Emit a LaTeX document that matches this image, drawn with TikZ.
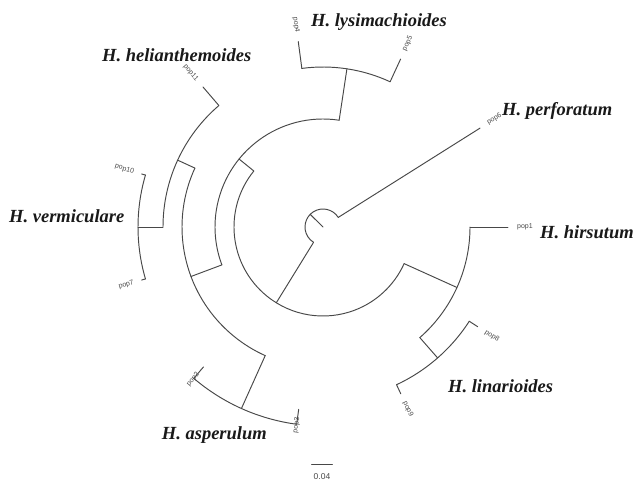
\documentclass[tikz,border=0pt]{standalone}
\usepackage{fontspec}
\setmainfont{Liberation Serif}
\newfontfamily\tipfont{Liberation Sans}
\definecolor{branchgray}{HTML}{484848}
\definecolor{tipgray}{HTML}{4A4A4A}
% tip labels: right half reads outward, left half is flipped and right-aligned
\newcommand\tipR[3]{\node[tiplabel, anchor=west, rotate=#1] (lab-#3) at (#1:#2pt) {#3};}
\newcommand\tipL[3]{\node[tiplabel, anchor=east, rotate=#1+180] (lab-#3) at (#1:#2pt) {#3};}
\begin{document}
\begin{tikzpicture}[x=1pt,y=1pt,
  branch/.style={draw=branchgray, line width=0.95pt, line cap=round, line join=round},
  tiplabel/.style={font=\tipfont\fontsize{7}{8}\selectfont, text=tipgray, inner sep=0pt},
  species/.style={font=\bfseries\itshape\fontsize{18.5}{20}\selectfont, text=black!90, inner sep=0pt}]
\useasboundingbox (0,0) rectangle (637,-482);
\fill[white] (0,0) rectangle (637,-482);

\begin{scope}[shift={(323,-227)}]
  % root
  \coordinate (root) at (0,0);
  \coordinate (rootTick) at (135.3:18pt);
  \coordinate (rootA) at (32.2:18pt);
  \coordinate (rootB) at (238.35:18pt);
  \draw[branch] (root) -- (rootTick);
  \draw[branch] (rootA) arc[start angle=32.2, end angle=238.35, radius=18pt];
  % H. perforatum
  \coordinate (pop6) at (32.2:185.6pt);
  \draw[branch] (rootA) -- (pop6);
  % main clade
  \coordinate (n1) at (238.35:89pt);
  \coordinate (n1a) at (141:89pt);
  \coordinate (n1b) at (335.7:89pt);
  \draw[branch] (rootB) -- (n1);
  \draw[branch] (n1a) arc[start angle=141, end angle=335.7, radius=89pt];
  % northern/western clade
  \coordinate (n2) at (141:108pt);
  \coordinate (n2a) at (81.4:108pt);
  \coordinate (n2b) at (200.55:108pt);
  \draw[branch] (n1a) -- (n2);
  \draw[branch] (n2a) arc[start angle=81.4, end angle=200.55, radius=108pt];
  % H. lysimachioides
  \coordinate (n3) at (81.4:160pt);
  \coordinate (n3a) at (65.2:160pt);
  \coordinate (n3b) at (97.6:160pt);
  \coordinate (pop5) at (65.2:185pt);
  \coordinate (pop4) at (97.6:187pt);
  \draw[branch] (n2a) -- (n3);
  \draw[branch] (n3a) arc[start angle=65.2, end angle=97.6, radius=160pt];
  \draw[branch] (n3a) -- (pop5);
  \draw[branch] (n3b) -- (pop4);
  % helianthemoides / vermiculare / asperulum
  \coordinate (n4) at (200.55:141pt);
  \coordinate (n4a) at (155.3:141pt);
  \coordinate (n4b) at (245.8:141pt);
  \draw[branch] (n2b) -- (n4);
  \draw[branch] (n4a) arc[start angle=155.3, end angle=245.8, radius=141pt];
  \coordinate (n7) at (155.3:160pt);
  \coordinate (n7a) at (130.6:160pt);
  \coordinate (n7b) at (180:160pt);
  \coordinate (pop11) at (130.6:184.5pt);
  \draw[branch] (n4a) -- (n7);
  \draw[branch] (n7a) arc[start angle=130.6, end angle=180, radius=160pt];
  \draw[branch] (n7a) -- (pop11);
  % H. vermiculare
  \coordinate (n8) at (180:185pt);
  \coordinate (n8a) at (163.7:185pt);
  \coordinate (n8b) at (196.3:185pt);
  \coordinate (pop10) at (163.7:189pt);
  \coordinate (pop7) at (196.3:189pt);
  \draw[branch] (n7b) -- (n8);
  \draw[branch] (n8a) arc[start angle=163.7, end angle=196.3, radius=185pt];
  \draw[branch] (n8a) -- (pop10);
  \draw[branch] (n8b) -- (pop7);
  % H. asperulum
  \coordinate (n9) at (245.8:199pt);
  \coordinate (n9a) at (229.5:199pt);
  \coordinate (n9b) at (262.4:199pt);
  \coordinate (pop2) at (229.5:184pt);
  \coordinate (pop3) at (262.4:184pt);
  \draw[branch] (n4b) -- (n9);
  \draw[branch] (n9a) arc[start angle=229.5, end angle=262.4, radius=199pt];
  \draw[branch] (n9a) -- (pop2);
  \draw[branch] (n9b) -- (pop3);
  % hirsutum / linarioides
  \coordinate (n5) at (335.7:147pt);
  \coordinate (n5a) at (311.2:147pt);
  \coordinate (n5b) at (360:147pt);
  \coordinate (pop1) at (0:185pt);
  \draw[branch] (n1b) -- (n5);
  \draw[branch] (n5a) arc[start angle=311.2, end angle=360, radius=147pt];
  \draw[branch] (n5b) -- (pop1);
  \coordinate (n6) at (311.2:174pt);
  \coordinate (n6a) at (295:174pt);
  \coordinate (n6b) at (327.2:174pt);
  \coordinate (pop9) at (295:184pt);
  \coordinate (pop8) at (327.2:184pt);
  \draw[branch] (n5a) -- (n6);
  \draw[branch] (n6a) arc[start angle=295, end angle=327.2, radius=174pt];
  \draw[branch] (n6a) -- (pop9);
  \draw[branch] (n6b) -- (pop8);

  % tip labels
  \tipR{32.2}{194.5}{pop6}
  \tipR{65.2}{194}{pop5}
  \tipL{97.6}{196}{pop4}
  \tipL{130.6}{193.5}{pop11}
  \tipL{163.7}{197}{pop10}
  \tipL{196.3}{197}{pop7}
  \tipL{229.5}{192}{pop2}
  \tipL{262.4}{192}{pop3}
  \tipR{295}{193}{pop9}
  \tipR{327.2}{193}{pop8}
  \tipR{0}{194}{pop1}
\end{scope}

% species names
\node[species, anchor=base west] (sp-lys) at (311,-26) {H. lysimachioides};
\node[species, anchor=base west] (sp-hel) at (102,-61) {H. helianthemoides};
\node[species, anchor=base west] (sp-per) at (502,-115) {H. perforatum};
\node[species, anchor=base west] (sp-ver) at (9,-222) {H. vermiculare};
\node[species, anchor=base west] (sp-hir) at (540,-238) {H. hirsutum};
\node[species, anchor=base west] (sp-lin) at (448,-392) {H. linarioides};
\node[species, anchor=base east] (sp-asp) at (267,-439) {H. asperulum};

% scale bar
\coordinate (sbL) at (311.5,-464.3);
\coordinate (sbR) at (332.5,-464.3);
\draw[branch] (sbL) -- (sbR);
\node[font=\tipfont\fontsize{8.5}{9}\selectfont, text=tipgray, inner sep=0pt] (sb-lab) at (322,-477) {0.04};
\end{tikzpicture}
\end{document}
